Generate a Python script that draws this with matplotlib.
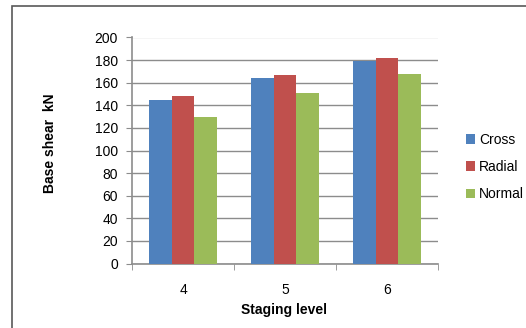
import matplotlib
matplotlib.use("Agg")
import matplotlib.pyplot as plt
from matplotlib.patches import Rectangle
import numpy as np

categories = ["4", "5", "6"]
cross = [145, 164, 179.5]
radial = [148, 166.5, 182]
normal = [129.5, 150.5, 168]
series_names = ["Cross", "Radial", "Normal"]
colors = ["#4F81BD", "#C0504D", "#9BBB59"]

plt.rcParams['font.family'] = ['Liberation Sans', 'DejaVu Sans']

W, H = 526, 328
fig = plt.figure(figsize=(W / 100, H / 100), dpi=100)

# outer frame
fig.patches.append(Rectangle((12 / W, -0.1), 1.2, 1 - 6.5 / H + 0.1,
                             transform=fig.transFigure, fill=False,
                             edgecolor="#595959", linewidth=1.2))

ax = fig.add_axes([132 / W, 1 - 263.5 / H, (438 - 132) / W, (263.5 - 37.5) / H])
x = np.arange(len(categories))
bw = 0.222
for i, (vals, name, c) in enumerate(zip([cross, radial, normal], series_names, colors)):
    ax.bar(x + (i - 1) * bw, vals, width=bw, color=c, label=name, zorder=3)

ax.set_ylim(0, 200)
ax.set_xlim(-0.5, 2.5)
ax.set_yticks(np.arange(0, 201, 20))
ax.yaxis.grid(True, color="#8C8C8C", linewidth=1.0, zorder=0)
ax.get_ygridlines()[-1].set_color("#D0D0D0")
ax.set_xticks(x)
ax.set_xticklabels(categories)
ax.set_xticks([-0.5, 0.5, 1.5, 2.5], minor=True)
ax.tick_params(axis="x", which="major", length=0, pad=14, labelsize=10)
ax.tick_params(axis="x", which="minor", length=4, color="#8C8C8C")
ax.tick_params(axis="y", length=4, color="#8C8C8C", labelsize=10, pad=6)
for s in ["top", "right"]:
    ax.spines[s].set_visible(False)
for s in ["left", "bottom"]:
    ax.spines[s].set_color("#8C8C8C")
    ax.spines[s].set_linewidth(1.2)
ax.set_axisbelow(True)

fig.text(50 / W, 1 - 143 / H, "Base shear  kN", rotation=90, ha="center", va="center",
         fontsize=10, fontweight="bold")
fig.text(284 / W, 1 - 310 / H, "Staging level", ha="center", va="center",
         fontsize=10, fontweight="bold")

leg = ax.legend(loc="center left", bbox_to_anchor=(459 / W, 1 - 167 / H),
                bbox_transform=fig.transFigure, frameon=False, fontsize=10,
                handlelength=0.65, handleheight=0.65, handletextpad=0.3,
                labelspacing=0.95, borderpad=0)

fig.savefig("out.png", dpi=100)
